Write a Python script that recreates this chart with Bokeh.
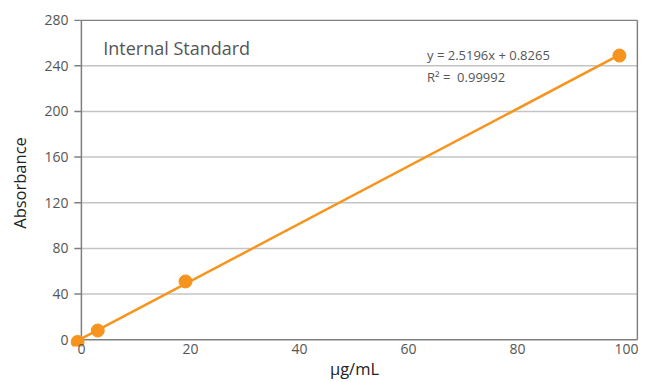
from bokeh.plotting import figure
from bokeh.models import Range1d, Label, FixedTicker
from bokeh.embed import file_html
from bokeh.resources import INLINE

# data
conc = [-0.7, 3.0, 19.1, 98.7]
absorb = [-2.0, 8.0, 51.0, 249.0]
slope = 2.5196
intercept = 0.8265
x_ticks = [0, 20, 40, 60, 80, 100]
y_ticks = [0, 40, 80, 120, 160, 200, 240, 280]
x_max = 102
y_max = 280
x_title = "\u03bcg/mL"
y_title = "Absorbance"
title_text = "Internal Standard"
eq_text = "y = 2.5196x + 0.8265"
r2_text = "R\u00b2 =\u00a0 0.99992"

ORANGE = "#F7941D"
FONT = "Open Sans"
FRAME = "#7f7f7f"
GRID = "#c4c4c4"

p = figure(width=645, height=382, output_backend="svg", toolbar_location=None,
           x_range=Range1d(-2.0, x_max + 0.2), y_range=Range1d(-6.0, y_max + 0.6),
           min_border_left=70, min_border_right=7, min_border_top=19, min_border_bottom=35)
p.background_fill_color = "white"
p.border_fill_color = "white"
p.outline_line_color = None
p.xgrid.visible = False
p.ygrid.visible = False

# horizontal grid lines at the y ticks
grid_y = [t for t in y_ticks if 0 < t < y_max]
p.segment(x0=[0] * len(grid_y), y0=grid_y, x1=[x_max] * len(grid_y), y1=grid_y,
          line_color=GRID, line_width=1.5)
# chart box
p.segment(x0=[0, 0, 0, x_max], y0=[0, 0, y_max, 0], x1=[x_max, 0, x_max, x_max],
          y1=[0, y_max, y_max, y_max], line_color=FRAME, line_width=1.5)
# outward y ticks
tick_len = 1.3
p.segment(x0=[-tick_len] * len(y_ticks), y0=y_ticks, x1=[0] * len(y_ticks), y1=y_ticks,
          line_color=FRAME, line_width=1.5)

# trendline and points
fit_x = [0, conc[-1]]
fit_y = [slope * v + intercept for v in fit_x]
p.line(fit_x, fit_y, line_color=ORANGE, line_width=2.5)
p.scatter(conc, absorb, size=13, fill_color=ORANGE, line_color=ORANGE)

for ax in (p.xaxis, p.yaxis):
    ax.axis_line_color = None
    ax.major_tick_line_color = None
    ax.minor_tick_line_color = None
    ax.major_tick_out = 0
    ax.major_tick_in = 0
    ax.major_label_text_font = FONT
    ax.major_label_text_font_size = "14px"
    ax.major_label_text_color = "#555555"
    ax.axis_label_text_font = FONT
    ax.axis_label_text_font_size = "16.5px"
    ax.axis_label_text_font_style = "normal"
    ax.axis_label_text_color = "#222222"

p.xaxis.ticker = FixedTicker(ticks=x_ticks)
p.yaxis.ticker = FixedTicker(ticks=y_ticks)
p.xaxis.major_label_standoff = -3
p.xaxis.axis_label = x_title
p.xaxis.axis_label_standoff = 0
p.yaxis.major_label_standoff = 2
p.yaxis.axis_label = y_title
p.yaxis.axis_label_standoff = 10

p.add_layout(Label(x=4.0, y=256, text=title_text, text_font=FONT, text_font_size="18px",
                   text_color="#555555", text_baseline="middle"))
p.add_layout(Label(x=63.4, y=249.5, text=eq_text, text_font=FONT, text_font_size="13px",
                   text_color="#555555", text_baseline="middle"))
p.add_layout(Label(x=63.4, y=230, text=r2_text, text_font=FONT, text_font_size="13px",
                   text_color="#555555", text_baseline="middle"))

open("out.html", "w").write(file_html(p, INLINE))
